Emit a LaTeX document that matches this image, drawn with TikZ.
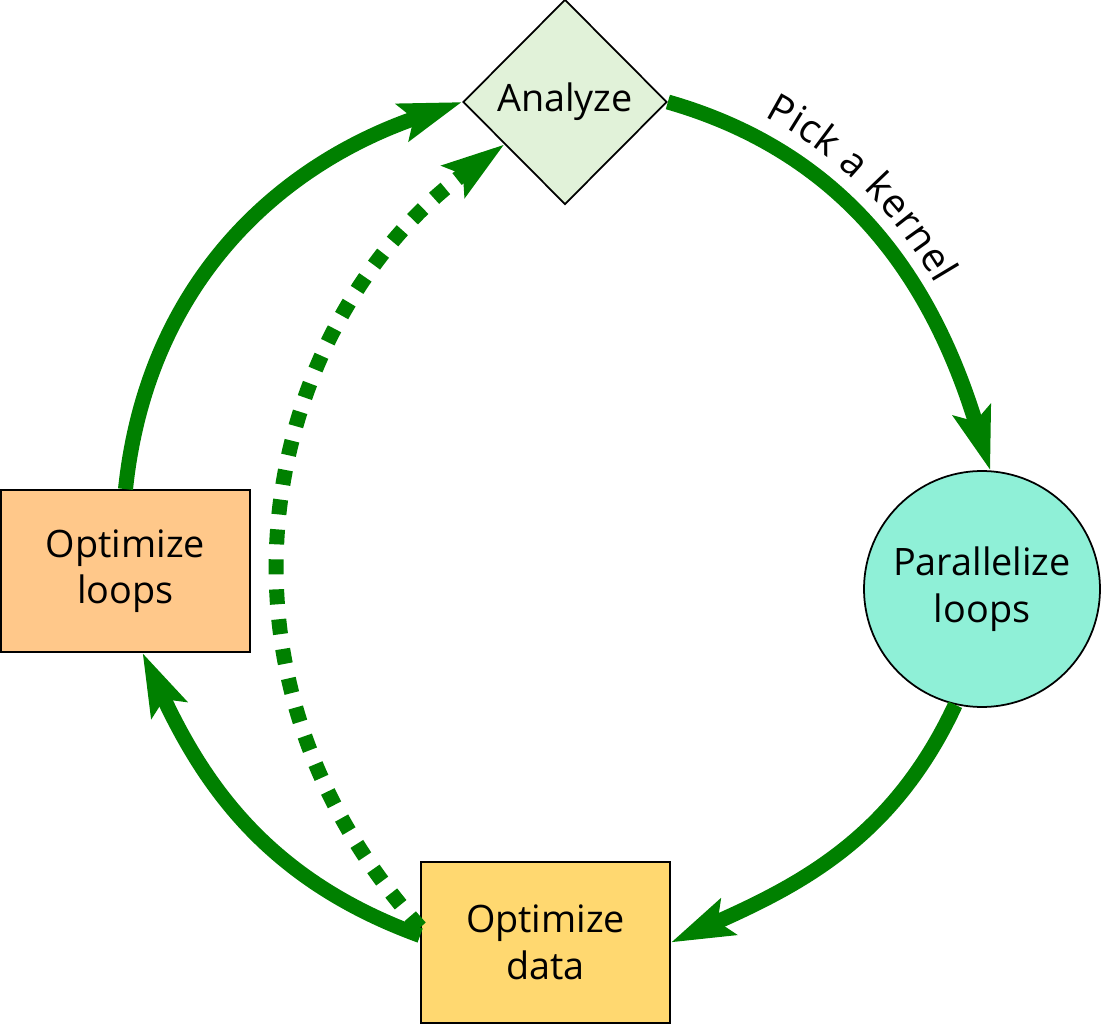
\documentclass[tikz,border=0pt]{standalone}
\usepackage{fontspec}
\setmainfont{Open Sans}
\usetikzlibrary{shapes.geometric,arrows.meta,decorations.text}
\definecolor{analyzefill}{RGB}{225,242,217}
\definecolor{parfill}{RGB}{143,240,215}
\definecolor{loopsfill}{RGB}{255,200,138}
\definecolor{datafill}{RGB}{255,216,112}
\definecolor{flowgreen}{RGB}{0,128,0}
\tikzset{
  box/.style={draw=black, line width=1pt, align=center, inner sep=0pt, font=\fontsize{21.5}{26.5}\selectfont},
  flow/.style={draw=flowgreen, line width=0.3cm, -{Stealth[length=1.24cm, width=0.76cm, inset=0.22cm]}},
  dotflow/.style={flow, dash pattern=on 0.3cm off 0.3cm}
}
\begin{document}
\begin{tikzpicture}[x=0.02cm, y=0.02cm]
\useasboundingbox (0,0) rectangle (1102,1025);
\node[box, diamond, fill=analyzefill, minimum width=4.08cm, minimum height=4.1cm] (an) at (565,923) {Analyze};
\node[box, circle, fill=parfill, minimum size=4.72cm] (par) at (982,436) {Parallelize\\loops};
\node[box, rectangle, fill=loopsfill, minimum width=4.98cm, minimum height=3.24cm] (ol) at (125.5,454) {Optimize\\loops};
\node[box, rectangle, fill=datafill, minimum width=4.98cm, minimum height=3.22cm] (od) at (545.5,82.5) {Optimize\\data};
\draw[flow] (ol.north) to[out=84, in=199] (an.west);
\draw[flow, postaction={decorate, decoration={text along path, raise=0.44cm, text align={left indent=1.85cm},
  text={|\fontsize{22.5}{28}\selectfont|Pick a kernel}}}] (an.east) to[out=-16, in=107] (par.86);
\draw[flow] (par.257) to[out=245, in=24] (od.east);
\draw[flow] ([yshift=0.14cm]od.west) to[out=160, in=295] ([xshift=0.34cm]ol.south);
\draw[dotflow] ([yshift=0.3cm]od.west) to[out=132, in=216, out looseness=1.18, in looseness=0.92] (an.215);
\end{tikzpicture}
\end{document}
